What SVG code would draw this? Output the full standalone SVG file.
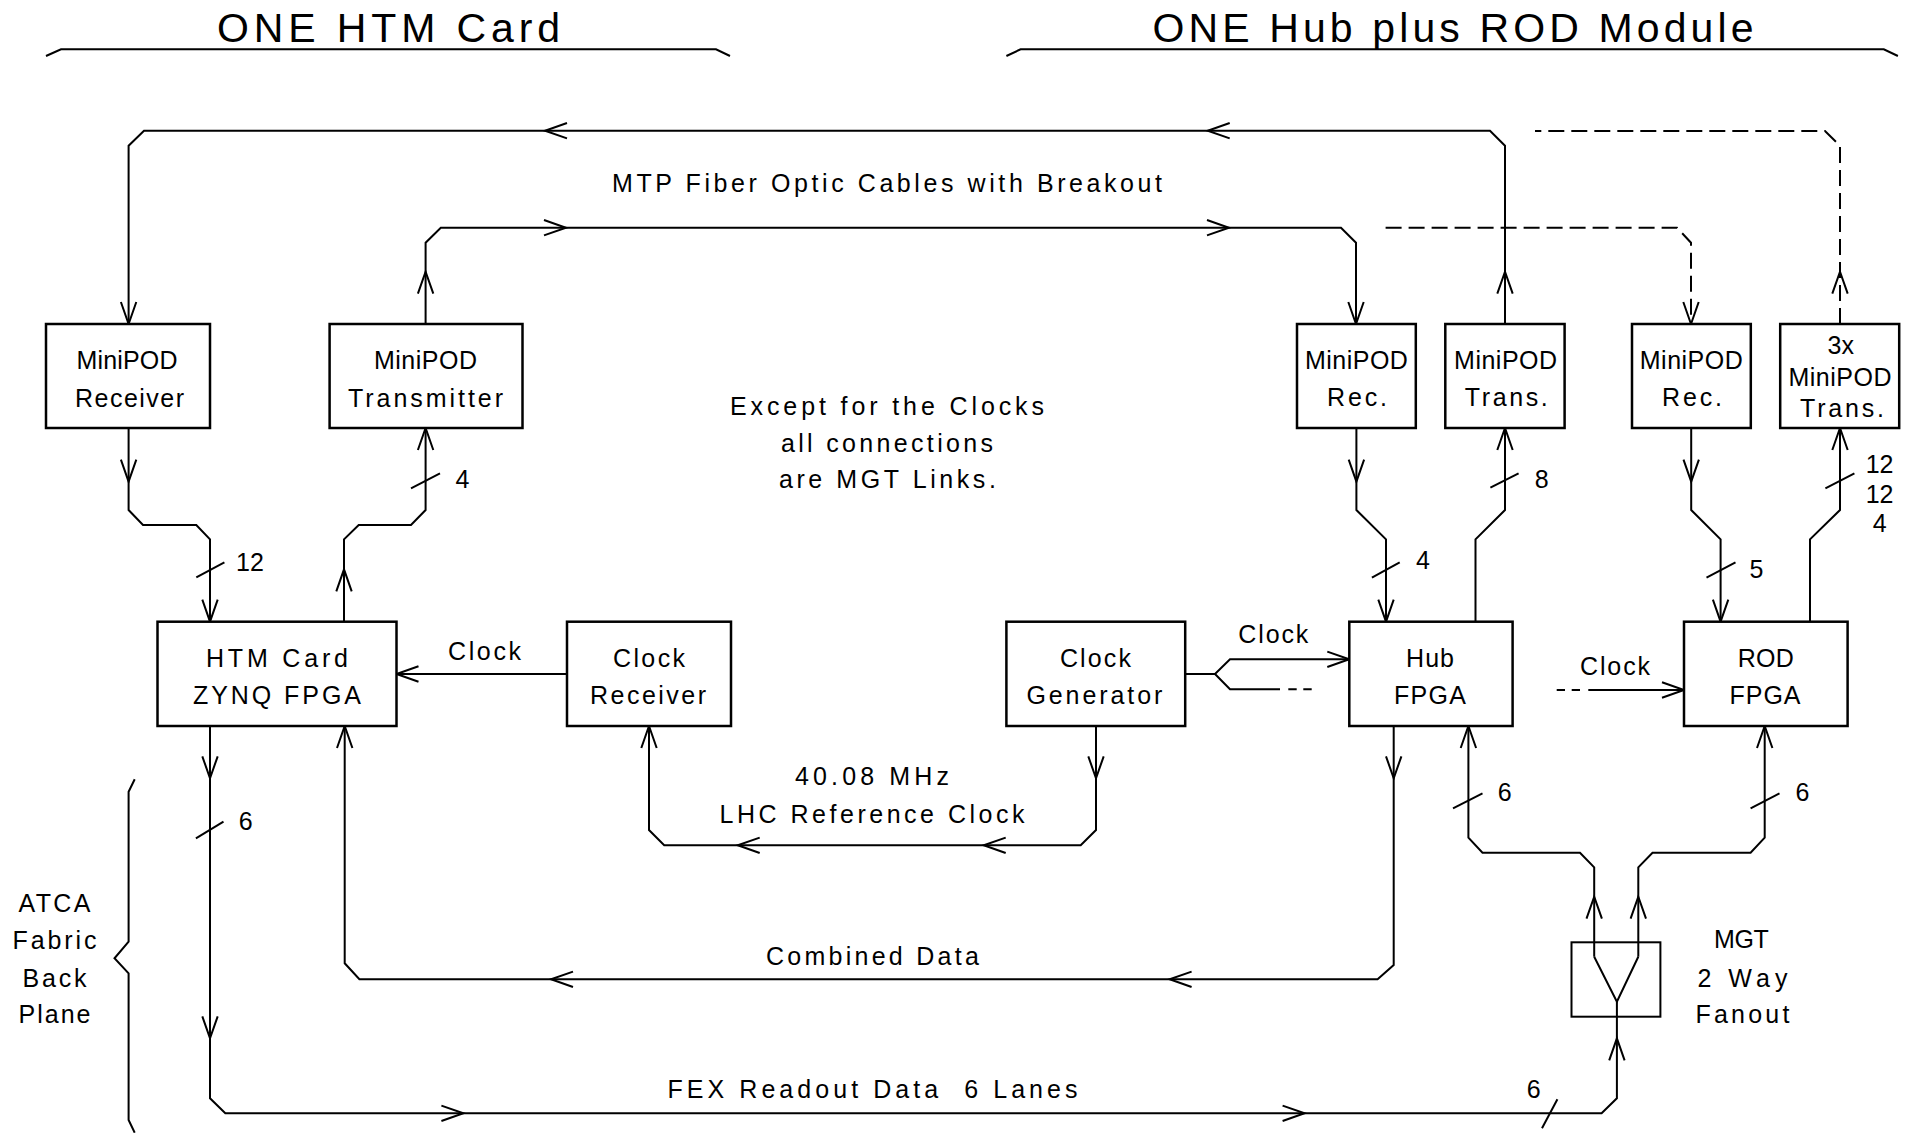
<svg xmlns="http://www.w3.org/2000/svg" xmlns:xlink="http://www.w3.org/1999/xlink" width="1912" height="1133" viewBox="0 0 1912 1133">
<style>
.ln{fill:none;stroke:#000;stroke-width:2}
.dash{stroke-dasharray:16 7}
.box{fill:#fff;stroke:#000;stroke-width:2.5}
.t{font-family:"Liberation Sans",Arial,sans-serif;font-size:25px;fill:#000}
.m{text-anchor:middle}
.h{font-size:41px}
</style>
<defs>
<path id="ah" d="M-22,-7.7 L0,0 L-22,7.7" fill="none" stroke="#000" stroke-width="2"/>
</defs>
<rect width="1912" height="1133" fill="#fff"/>

<g id="headers">
<path class="ln" d="M46,56 L61,49.3 H716 L730,56"/>
<path class="ln" d="M1006.4,56 L1020.6,49.3 H1883.8 L1897.9,56"/>
<text class="t h m" x="388.5" y="41.7" textLength="343" lengthAdjust="spacing">ONE HTM Card</text>
<text class="t h m" x="1453" y="41.7" textLength="601" lengthAdjust="spacing">ONE Hub plus ROD Module</text>
</g>

<g id="connectors">
<path class="ln" d="M1505,324 V145.7 L1490,130.7 H144 L128.6,145.7 V324"/>
<use href="#ah" transform="translate(1505,271.7) rotate(-90)"/>
<use href="#ah" transform="translate(545,130.7) rotate(180)"/>
<use href="#ah" transform="translate(1207.7,130.7) rotate(180)"/>
<use href="#ah" transform="translate(128.6,324) rotate(90)"/>

<path class="ln" d="M425.6,324 V242.7 L440.8,227.7 H1341 L1356,242.7 V324"/>
<use href="#ah" transform="translate(425.6,271.7) rotate(-90)"/>
<use href="#ah" transform="translate(566,227.7)"/>
<use href="#ah" transform="translate(1229,227.7)"/>
<use href="#ah" transform="translate(1356,324) rotate(90)"/>

<path class="ln dash" d="M1840,324 V145.7 L1825,131 H1535"/>
<use href="#ah" transform="translate(1840,271.7) rotate(-90)"/>
<path class="ln dash" d="M1385.6,227.7 H1677 L1691,242.7 V324"/>
<use href="#ah" transform="translate(1691,324) rotate(90)"/>

<path class="ln" d="M128.6,428 V510 L143,525 H196.3 L210,539.3 V621.7"/>
<use href="#ah" transform="translate(128.6,481.7) rotate(90)"/>
<use href="#ah" transform="translate(210,621.7) rotate(90)"/>
<path class="ln" d="M196.3,577.3 L224.4,562.3"/>
<text class="t" x="236" y="570.7">12</text>

<path class="ln" d="M344,621.7 V539.3 L358.7,525 H411 L425.6,510 V428"/>
<use href="#ah" transform="translate(344,569.3) rotate(-90)"/>
<use href="#ah" transform="translate(425.6,428) rotate(-90)"/>
<path class="ln" d="M411,488.3 L440,473.3"/>
<text class="t" x="455.6" y="488.3">4</text>

<path class="ln" d="M567,674 H396.5"/>
<use href="#ah" transform="translate(396.5,674) rotate(180)"/>
<text class="t m" x="484.5" y="660" textLength="73" lengthAdjust="spacing">Clock</text>

<path class="ln" d="M1096,726 V830 L1080.7,845.3 H664.2 L649,830 V726"/>
<use href="#ah" transform="translate(1096,778.3) rotate(90)"/>
<use href="#ah" transform="translate(983.7,845.3) rotate(180)"/>
<use href="#ah" transform="translate(737.7,845.3) rotate(180)"/>
<use href="#ah" transform="translate(649,726) rotate(-90)"/>
<text class="t m" x="872" y="785" textLength="154" lengthAdjust="spacing">40.08 MHz</text>
<text class="t m" x="872" y="823.3" textLength="305" lengthAdjust="spacing">LHC Reference Clock</text>

<path class="ln" d="M1185.2,674 H1215 L1230,659.3 H1349.3 M1215,674 L1230,689.3 H1280 M1288.3,689.3 H1296.7 M1303.3,689.3 H1311.7"/>
<use href="#ah" transform="translate(1349.3,659.3)"/>
<text class="t m" x="1273.3" y="643.3" textLength="70" lengthAdjust="spacing">Clock</text>

<path class="ln" d="M1556.7,690 H1565 M1571.7,690 H1580 M1588.3,690 H1684"/>
<use href="#ah" transform="translate(1684,690)"/>
<text class="t m" x="1615" y="675" textLength="70" lengthAdjust="spacing">Clock</text>

<path class="ln" d="M1356.4,428 V510 L1386,539.3 V621.7"/>
<use href="#ah" transform="translate(1356.4,481.7) rotate(90)"/>
<use href="#ah" transform="translate(1386,621.7) rotate(90)"/>
<path class="ln" d="M1371.9,577.7 L1399.7,562.3"/>
<text class="t" x="1416" y="569.3">4</text>

<path class="ln" d="M1475.5,621.7 V539.3 L1505,510 V428"/>
<use href="#ah" transform="translate(1505,428) rotate(-90)"/>
<path class="ln" d="M1490.4,487.7 L1518.6,473.3"/>
<text class="t" x="1534.8" y="488.3">8</text>

<path class="ln" d="M1691.2,428 V510 L1720.6,539.3 V621.7"/>
<use href="#ah" transform="translate(1691.2,481.7) rotate(90)"/>
<use href="#ah" transform="translate(1720.6,621.7) rotate(90)"/>
<path class="ln" d="M1706.5,577.7 L1735.5,562.3"/>
<text class="t" x="1749.6" y="577.7">5</text>

<path class="ln" d="M1810,621.7 V539.3 L1840,510 V428"/>
<use href="#ah" transform="translate(1840,428) rotate(-90)"/>
<path class="ln" d="M1825.4,488.3 L1854.4,473.3"/>
<text class="t m" x="1879.6" y="473.3">12</text>
<text class="t m" x="1879.6" y="503.3">12</text>
<text class="t m" x="1879.6" y="532.3">4</text>

<path class="ln" d="M210,726 V1098.3 L225.3,1113.3 H1601.6 L1616.9,1098.3 V1001.7"/>
<use href="#ah" transform="translate(210,778.3) rotate(90)"/>
<use href="#ah" transform="translate(210,1038.3) rotate(90)"/>
<use href="#ah" transform="translate(463.4,1113.3)"/>
<use href="#ah" transform="translate(1304.6,1113.3)"/>
<use href="#ah" transform="translate(1616.9,1038.3) rotate(-90)"/>
<path class="ln" d="M195.9,838.3 L223.5,821.7"/>
<text class="t" x="238.8" y="830">6</text>
<path class="ln" d="M1542,1128.3 L1557.4,1099.3"/>
<text class="t" x="1526.7" y="1098.3">6</text>
<text class="t m" x="872.5" y="1098.3" textLength="410" lengthAdjust="spacing" xml:space="preserve">FEX Readout Data  6 Lanes</text>

<path class="ln" d="M1594.2,956.7 V867.3 L1580,852.7 H1482.5 L1468.4,837.7 V726"/>
<use href="#ah" transform="translate(1594.2,896.7) rotate(-90)"/>
<use href="#ah" transform="translate(1468.4,726) rotate(-90)"/>
<path class="ln" d="M1453,808.3 L1482.5,793.3"/>
<text class="t" x="1497.8" y="801">6</text>

<path class="ln" d="M1638.3,956.7 V867.3 L1652.5,852.7 H1750.6 L1764.7,837.7 V726"/>
<use href="#ah" transform="translate(1638.3,896.7) rotate(-90)"/>
<use href="#ah" transform="translate(1764.7,726) rotate(-90)"/>
<path class="ln" d="M1750.6,808.3 L1779.5,793.3"/>
<text class="t" x="1795.4" y="801">6</text>

<path class="ln" d="M1393.7,726 V965 L1377.6,979.3 H359.4 L344.7,963.3 V726"/>
<use href="#ah" transform="translate(1393.7,778.3) rotate(90)"/>
<use href="#ah" transform="translate(1169.6,979.3) rotate(180)"/>
<use href="#ah" transform="translate(551,979.3) rotate(180)"/>
<use href="#ah" transform="translate(344.7,726) rotate(-90)"/>
<text class="t m" x="872.4" y="965" textLength="213" lengthAdjust="spacing">Combined Data</text>
</g>

<g id="labels">
<text class="t m" x="887" y="191.7" textLength="550" lengthAdjust="spacing">MTP Fiber Optic Cables with Breakout</text>
<text class="t m" x="887" y="415" textLength="314" lengthAdjust="spacing">Except for the Clocks</text>
<text class="t m" x="887" y="451.7" textLength="212" lengthAdjust="spacing">all connections</text>
<text class="t m" x="887.4" y="488.3" textLength="217" lengthAdjust="spacing">are MGT Links.</text>
</g>

<g id="atca">
<path class="ln" d="M134.7,779.3 L128.6,791.7 V941.7 L114.5,958.3 L128.6,973.3 V1120 L134.7,1132.7"/>
<text class="t m" x="54.5" y="911.7" textLength="72" lengthAdjust="spacing">ATCA</text>
<text class="t m" x="54.5" y="949.3" textLength="84" lengthAdjust="spacing">Fabric</text>
<text class="t m" x="54.5" y="986.7" textLength="64" lengthAdjust="spacing">Back</text>
<text class="t m" x="54.5" y="1023.3" textLength="72" lengthAdjust="spacing">Plane</text>
</g>

<g id="htm-minipod-rx">
<rect class="box" x="46" y="324" width="164" height="104"/>
<text class="t m" x="127" y="369.3" textLength="101" lengthAdjust="spacing">MiniPOD</text>
<text class="t m" x="129.5" y="406.5" textLength="109" lengthAdjust="spacing">Receiver</text>
</g>
<g id="htm-minipod-tx">
<rect class="box" x="329.6" y="324" width="192.9" height="104"/>
<text class="t m" x="425.5" y="369.3" textLength="103" lengthAdjust="spacing">MiniPOD</text>
<text class="t m" x="425.5" y="406.5" textLength="155" lengthAdjust="spacing">Transmitter</text>
</g>
<g id="htm-fpga">
<rect class="box" x="157.5" y="621.7" width="239" height="104.3"/>
<text class="t m" x="277" y="666.7" textLength="142" lengthAdjust="spacing">HTM Card</text>
<text class="t m" x="277" y="704" textLength="168" lengthAdjust="spacing">ZYNQ FPGA</text>
</g>
<g id="clock-receiver">
<rect class="box" x="567" y="621.7" width="164" height="104.3"/>
<text class="t m" x="649" y="666.7" textLength="72" lengthAdjust="spacing">Clock</text>
<text class="t m" x="648" y="704" textLength="116" lengthAdjust="spacing">Receiver</text>
</g>
<g id="clock-generator">
<rect class="box" x="1006.4" y="621.7" width="178.8" height="104.3"/>
<text class="t m" x="1095.4" y="666.7" textLength="71" lengthAdjust="spacing">Clock</text>
<text class="t m" x="1094.4" y="704" textLength="136" lengthAdjust="spacing">Generator</text>
</g>
<g id="hub-minipod-rec">
<rect class="box" x="1297" y="324" width="118.8" height="104"/>
<text class="t m" x="1356.4" y="369.3" textLength="103" lengthAdjust="spacing">MiniPOD</text>
<text class="t m" x="1357" y="406" textLength="60" lengthAdjust="spacing">Rec.</text>
</g>
<g id="hub-minipod-trans">
<rect class="box" x="1445.3" y="324" width="119.3" height="104"/>
<text class="t m" x="1505.6" y="369.3" textLength="103" lengthAdjust="spacing">MiniPOD</text>
<text class="t m" x="1506.3" y="406" textLength="83" lengthAdjust="spacing">Trans.</text>
</g>
<g id="rod-minipod-rec">
<rect class="box" x="1632" y="324" width="118.8" height="104"/>
<text class="t m" x="1691.3" y="369.3" textLength="103" lengthAdjust="spacing">MiniPOD</text>
<text class="t m" x="1692" y="406" textLength="60" lengthAdjust="spacing">Rec.</text>
</g>
<g id="rod-minipod-trans">
<rect class="box" x="1780.2" y="324" width="119" height="104"/>
<text class="t m" x="1840.7" y="354.3">3x</text>
<text class="t m" x="1840" y="386" textLength="103" lengthAdjust="spacing">MiniPOD</text>
<text class="t m" x="1842" y="417.3" textLength="84" lengthAdjust="spacing">Trans.</text>
</g>
<g id="hub-fpga">
<rect class="box" x="1349.3" y="621.7" width="163.3" height="104.3"/>
<text class="t m" x="1430" y="666.7" textLength="48" lengthAdjust="spacing">Hub</text>
<text class="t m" x="1430" y="704" textLength="72" lengthAdjust="spacing">FPGA</text>
</g>
<g id="rod-fpga">
<rect class="box" x="1684" y="621.7" width="163.6" height="104.3"/>
<text class="t m" x="1765.7" y="666.7" textLength="56" lengthAdjust="spacing">ROD</text>
<text class="t m" x="1765" y="704" textLength="71" lengthAdjust="spacing">FPGA</text>
</g>
<g id="mgt-fanout">
<rect class="ln" x="1571.5" y="942.3" width="88.9" height="74.4" stroke-width="2.5"/>
<path class="ln" d="M1594.2,956.7 L1616.9,1001.7 L1638.3,956.7"/>
<text class="t m" x="1741.4" y="948.3" textLength="55" lengthAdjust="spacing">MGT</text>
<text class="t m" x="1742.4" y="986.7" textLength="90" lengthAdjust="spacing">2 Way</text>
<text class="t m" x="1742.4" y="1023.3" textLength="94" lengthAdjust="spacing">Fanout</text>
</g>
</svg>
